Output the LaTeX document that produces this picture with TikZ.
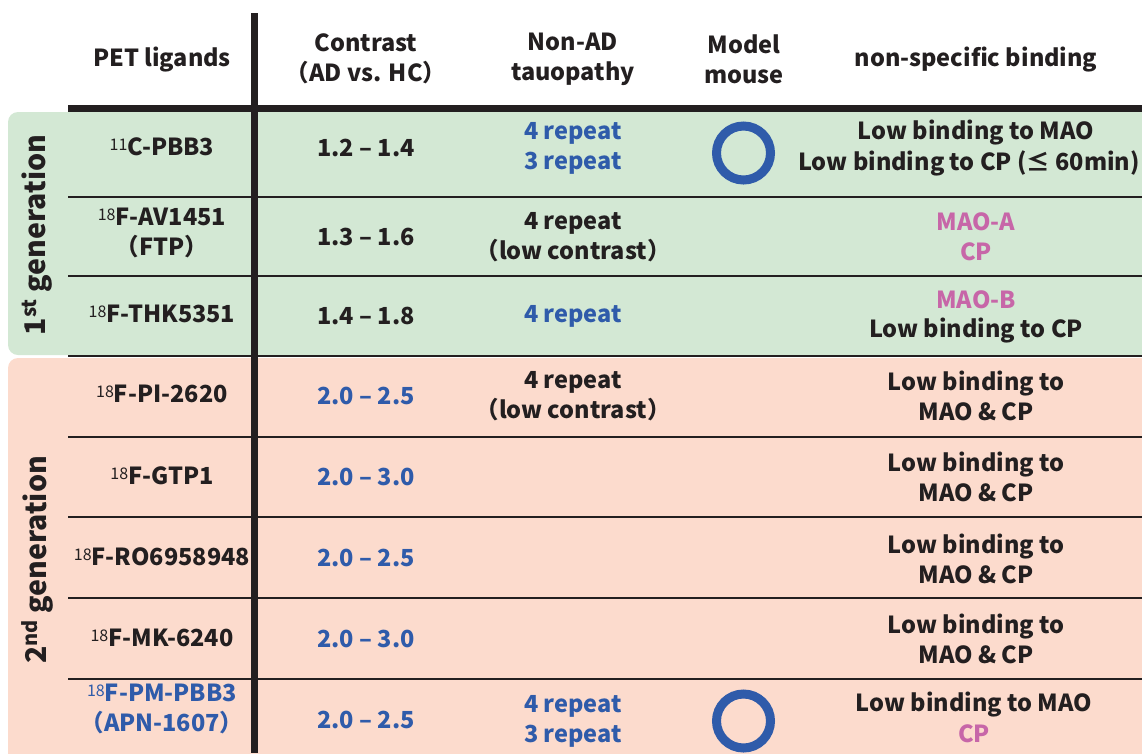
\documentclass[tikz,border=0pt]{standalone}
\usepackage{fontspec}
\setmainfont{Noto Sans CJK JP}
\definecolor{genone}{HTML}{D3E8D4}
\definecolor{gentwo}{HTML}{FCDBCD}
\definecolor{txtblue}{HTML}{2F5BAA}
\definecolor{txtpink}{HTML}{C766A8}
\definecolor{txtblack}{HTML}{231F20}
\newcommand{\iso}[1]{\raisebox{5.5pt}{\fontsize{16}{16}\selectfont\mdseries #1}}
\tikzset{
  cell/.style={align=center, inner sep=0pt, text=txtblack,
    font=\bfseries\fontsize{23.5}{30}\selectfont},
  blue/.style={cell, text=txtblue},
  pink/.style={cell, text=txtpink},
  genlabel/.style={cell, rotate=90, font=\bfseries\fontsize{28.5}{30}\selectfont},
  rule/.style={txtblack, line width=2pt},
  okmark/.style={draw=txtblue, line width=9pt, circle, minimum size=54pt, inner sep=0pt}
}
\begin{document}
\begin{tikzpicture}[x=1pt,y=-1pt]
\useasboundingbox (0,0) rectangle (1142,753);

	% background of the two generations
	\fill[genone, rounded corners=10pt] (8,112) rectangle (1170,355);
	\fill[gentwo, rounded corners=10pt] (8,358) rectangle (1170,790);

	% table rules
	\draw[txtblack, line width=7pt] (68,108.5) -- (1142,108.5);
	\draw[txtblack, line width=7pt] (254.5,13) -- (254.5,753);
	\foreach \y in {197,276,356,437,517,598,679}
		\draw[rule] (68,\y) -- (1142,\y);

	% header
	\node[cell] (hlig) at (162,60) {PET ligands};
	\node[cell] (hcon) at (366,59) {Contrast\\（AD vs. HC）};
	\node[cell] (hnon) at (573,59) {Non-AD\\tauopathy};
	\node[cell] (hmou) at (744,59) {Model\\mouse};
	\node[cell] (hbin) at (976,60) {non-specific binding};

	% generation labels
	\node[genlabel] (gone) at (37,235) {1\textsuperscript{st} generation};
	\node[genlabel] (gtwo) at (37,560) {2\textsuperscript{nd} generation};

	% 1st generation
	\node[cell] (lpbb) at (162,147) {\iso{11}C-PBB3};
	\node[cell] (cpbb) at (366,148) {1.2 – 1.4};
	\node[blue] (npbb) at (573,148) {4 repeat\\3 repeat};
	\node[okmark] (mpbb) at (743.5,153) {};
	\node[cell] (bpbb) at (976,133) {Low binding to MAO};
	\node[cell, anchor=west] (bpbb2) at (798,163) {Low binding to CP (≤ 60min)};

	\node[cell] (lav) at (162,233) {\iso{18}F-AV1451\\（FTP）};
	\node[cell] (cav) at (366,237) {1.3 – 1.6};
	\node[cell] (nav) at (573,237) {4 repeat\\（low contrast）};
	\node[pink] (bav) at (976,237) {MAO-A\\CP};

	\node[cell] (lthk) at (162,314) {\iso{18}F-THK5351};
	\node[cell] (cthk) at (366,316) {1.4 – 1.8};
	\node[blue] (nthk) at (573,316) {4 repeat};
	\node[pink] (bthk) at (976,300) {MAO-B};
	\node[cell] (bthk2) at (976,331) {Low binding to CP};

	% 2nd generation
	\node[cell] (lpi) at (162,394) {\iso{18}F-PI-2620};
	\node[blue] (cpi) at (366,396) {2.0 – 2.5};
	\node[cell] (npi) at (573,396) {4 repeat\\（low contrast）};
	\node[cell] (bpi) at (976,396) {Low binding to\\MAO \& CP};

	\node[cell] (lgtp) at (162,476) {\iso{18}F-GTP1};
	\node[blue] (cgtp) at (366,477) {2.0 – 3.0};
	\node[cell] (bgtp) at (976,477) {Low binding to\\MAO \& CP};

	\node[cell] (lro) at (162,557) {\iso{18}F-RO6958948};
	\node[blue] (cro) at (366,558) {2.0 – 2.5};
	\node[cell] (bro) at (976,559) {Low binding to\\MAO \& CP};

	\node[cell] (lmk) at (162,638) {\iso{18}F-MK-6240};
	\node[blue] (cmk) at (366,639) {2.0 – 3.0};
	\node[cell] (bmk) at (976,639) {Low binding to\\MAO \& CP};

	\node[blue] (lpm) at (162,709) {\iso{18}F-PM-PBB3\\（APN-1607）};
	\node[blue] (cpm) at (366,720) {2.0 – 2.5};
	\node[blue] (npm) at (573,721) {4 repeat\\3 repeat};
	\node[okmark] (mpm) at (743.5,721) {};
	\node[cell] (bpm) at (974,705) {Low binding to MAO};
	\node[pink] (bpm2) at (974,734) {CP};

\end{tikzpicture}
\end{document}
